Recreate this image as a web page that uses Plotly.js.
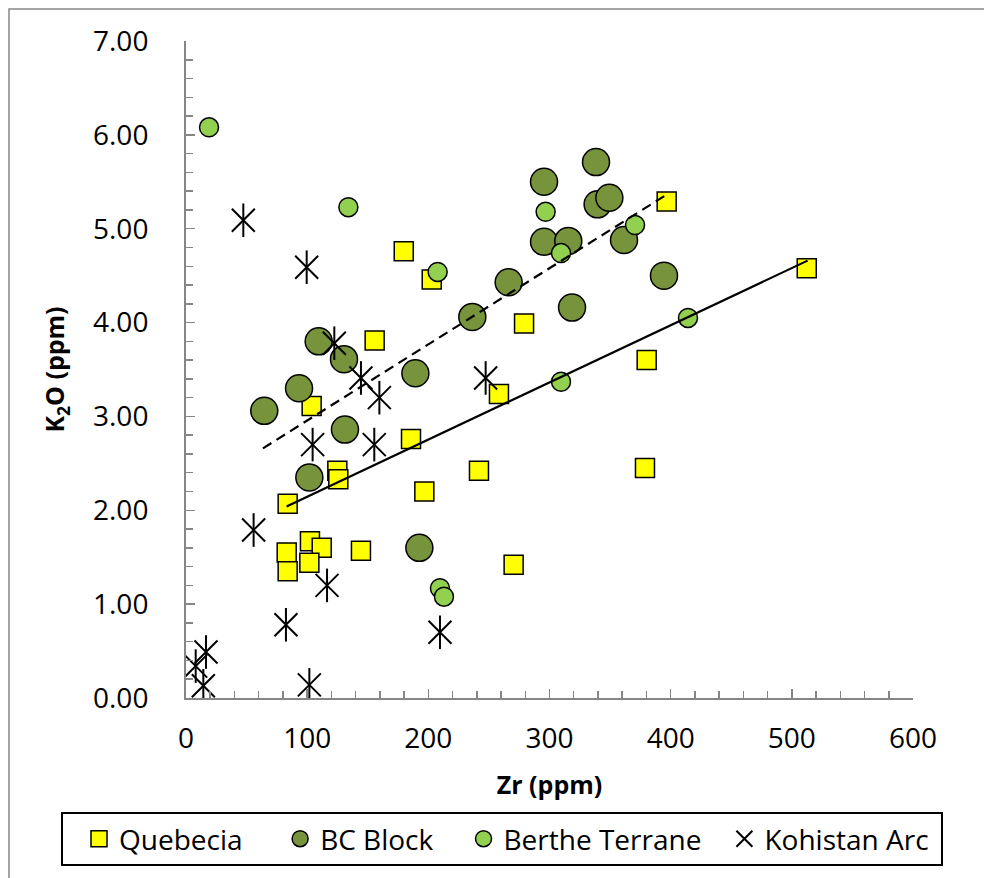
<!DOCTYPE html>
<html>
<head>
<meta charset="utf-8">
<script src="https://cdn.plot.ly/plotly-3.0.1.min.js"></script>
<style>html,body{margin:0;padding:0;background:#fff;}#chart{width:984px;height:878px;}</style>
</head>
<body>
<div id="chart"></div>
<script>
// Quebecia
const quebeciaZr = [396.7,179.7,202.8,279,155.7,512.3,380.2,258.3,103.7,185.7,124.9,125.7,241.8,378.8,196.7,83.9,102.3,112,83.1,144.4,101.8,83.9,270.4];
const quebeciaK2O = [5.29,4.76,4.46,3.99,3.81,4.58,3.60,3.24,3.11,2.76,2.42,2.33,2.42,2.45,2.20,2.07,1.67,1.60,1.55,1.57,1.44,1.35,1.42];
// BC Block
const bcZr = [338.4,295.5,339.7,349.4,295.5,315.5,361.5,394.5,266.3,236.3,318.6,109.5,130.4,189.3,93.3,64.6,131.2,101.8,192.6];
const bcK2O = [5.71,5.50,5.26,5.33,4.86,4.87,4.88,4.50,4.43,4.06,4.16,3.80,3.61,3.46,3.30,3.06,2.86,2.35,1.60];
// Berthe Terrane
const bertheZr = [19,134,207.7,296.8,370.6,309.5,414.3,309.5,209.6,212.9];
const bertheK2O = [6.08,5.23,4.54,5.18,5.04,4.74,4.05,3.37,1.17,1.08];
// Kohistan Arc
const kohistanZr = [47.3,99.6,122.4,144.4,159.6,247.3,104.5,155.4,55.8,116.4,82.5,209.6,16.5,8,14.3,101.8];
const kohistanK2O = [5.09,4.59,3.78,3.41,3.20,3.41,2.70,2.70,1.79,1.20,0.78,0.70,0.49,0.34,0.13,0.14];
// Trendline end points
const quebeciaTrendZr = [83, 513];
const quebeciaTrendK2O = [2.04, 4.66];
const bcTrendZr = [63.5, 395];
const bcTrendK2O = [2.66, 5.35];
// Axis ticks
const xTicks = [0,100,200,300,400,500,600];
const yTicks = [0,1,2,3,4,5,6,7];
const yTickLabels = ['0.00','1.00','2.00','3.00','4.00','5.00','6.00','7.00'];
// Series names
const seriesNames = ['Quebecia', 'BC Block', 'Berthe Terrane', 'Kohistan Arc'];

const FONT = 'Open Sans, sans-serif';
const NB = '\u00a0';
const pad = (s, n) => s + NB.repeat(n);
const traces = [
  {x: quebeciaZr, y: quebeciaK2O, name: pad(seriesNames[0], 2), type: 'scatter', mode: 'markers',
   marker: {symbol: 'square', size: 19, color: '#FFFF00', line: {color: '#000', width: 1.5}}},
  {x: bcZr, y: bcK2O, name: pad(seriesNames[1], 1), type: 'scatter', mode: 'markers',
   marker: {symbol: 'circle', size: 27, color: '#77933C', line: {color: '#000', width: 1.5}}},
  {x: bertheZr, y: bertheK2O, name: seriesNames[2], type: 'scatter', mode: 'markers',
   marker: {symbol: 'circle', size: 19, color: '#92D050', line: {color: '#000', width: 1.5}}},
  {x: kohistanZr, y: kohistanK2O, name: pad(seriesNames[3], 1), type: 'scatter', mode: 'markers', legendgroup: 'k',
   marker: {symbol: 'x-thin-open', size: 23, color: '#000', line: {color: '#000', width: 2}}},
  {x: kohistanZr, y: kohistanK2O, name: seriesNames[3], type: 'scatter', mode: 'markers', legendgroup: 'k', showlegend: false,
   marker: {symbol: 'line-ns-open', size: 24, color: '#000', line: {color: '#000', width: 2}}},
  {x: quebeciaTrendZr, y: quebeciaTrendK2O, type: 'scatter', mode: 'lines', showlegend: false,
   line: {color: '#000', width: 2.2}},
  {x: bcTrendZr, y: bcTrendK2O, type: 'scatter', mode: 'lines', showlegend: false,
   line: {color: '#000', width: 2.2, dash: '10px,6px'}}
];

const W = 984, H = 878;
const L = 186, R = 913, T = 41, B = 698;
const pw = R - L, ph = B - T;
const px = v => (v - L) / pw;
const py = v => (B - v) / ph;

const layout = {
  width: W, height: H,
  margin: {l: L, r: W - R, t: T, b: H - B},
  paper_bgcolor: '#fff', plot_bgcolor: '#fff',
  font: {family: FONT, color: '#000'},
  showlegend: true,
  xaxis: {
    range: [0, 600], tickvals: xTicks, ticktext: xTicks.map(String),
    showgrid: false, zeroline: false, showline: true, linecolor: '#868686', linewidth: 2,
    ticks: 'inside', ticklen: 9, tickwidth: 1.5, tickcolor: '#868686',
    minor: {dtick: 20, ticks: 'inside', ticklen: 7, tickwidth: 1.5, tickcolor: '#868686', showgrid: false},
    tickfont: {family: FONT, size: 28, color: '#000'}, ticklabelstandoff: 14,
    title: {text: 'Zr (ppm)', font: {family: FONT, size: 25, weight: 'bold', color: '#000'}, standoff: 22},
    fixedrange: true
  },
  yaxis: {
    range: [0, 7], tickvals: yTicks, ticktext: yTickLabels,
    showgrid: false, zeroline: false, showline: true, linecolor: '#868686', linewidth: 2,
    ticks: 'inside', ticklen: 9, tickwidth: 1.5, tickcolor: '#868686',
    minor: {dtick: 0.2, ticks: 'inside', ticklen: 7, tickwidth: 1.5, tickcolor: '#868686', showgrid: false},
    tickfont: {family: FONT, size: 28, color: '#000'}, ticklabelstandoff: 30,
    title: {text: 'K<sub>2</sub>O (ppm)', font: {family: FONT, size: 25, weight: 'bold', color: '#000'}, standoff: 21},
    fixedrange: true
  },
  legend: {
    orientation: 'h', x: px(61), xanchor: 'left', y: py(812), yanchor: 'top',
    bordercolor: '#000', borderwidth: 2, bgcolor: '#fff', indentation: 18,
    font: {family: FONT, size: 28, color: '#000'}, itemwidth: 30
  },
  shapes: [
    {type: 'rect', xref: 'paper', yref: 'paper', x0: px(9), x1: px(1000), y0: py(900), y1: py(9),
     line: {color: '#868686', width: 1.5}, fillcolor: 'rgba(0,0,0,0)', layer: 'below'}
  ]
};

Plotly.newPlot('chart', traces, layout, {staticPlot: true, displayModeBar: false});
</script>
</body>
</html>
